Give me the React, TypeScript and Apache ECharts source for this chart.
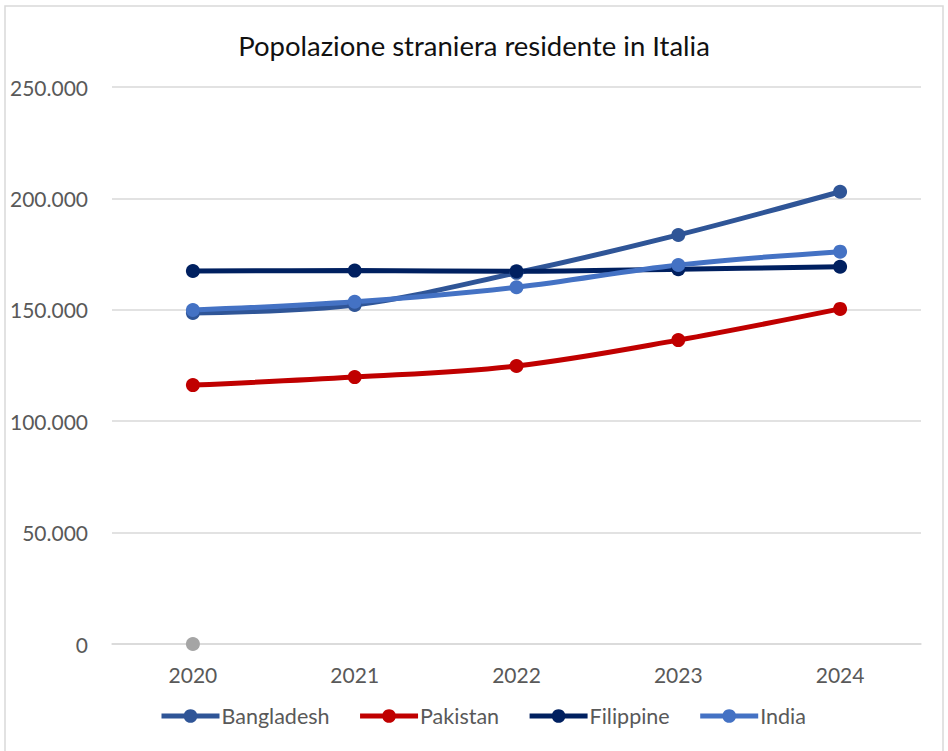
import React, { useEffect, useRef } from "react";
import * as echarts from "echarts";

const categories = ["2020", "2021", "2022", "2023", "2024"];
const bangladesh = [148600, 152200, 166600, 183600, 203000];
const pakistan = [116200, 119800, 124800, 136400, 150400];
const filippine = [167400, 167600, 167300, 168200, 169300];
const india = [149900, 153600, 160100, 170100, 176100];
const extraPoint = [0, null, null, null, null];
const yTicks = { min: 0, max: 250000, interval: 50000 };

const FONT = "Lato";

const fmt = (v: number) => String(v).replace(/\B(?=(\d{3})+(?!\d))/g, ".");

export default function App() {
  const ref = useRef<HTMLDivElement>(null);
  useEffect(() => {
    document.body.style.margin = "0";
    const chart = echarts.init(ref.current!, undefined, { renderer: "svg" });
    const mk = (name: string, data: (number | null)[], color: string) => ({
      name,
      type: "line",
      data,
      smooth: 0.35,
      symbol: "circle",
      symbolSize: 14,
      showSymbol: true,
      lineStyle: { width: 5, color },
      itemStyle: { color },
      emphasis: { disabled: true },
    });
    chart.setOption({
      animation: false,
      backgroundColor: "#ffffff",
      textStyle: { fontFamily: FONT },
      title: {
        text: "Popolazione straniera residente in Italia",
        left: "center",
        top: 26,
        textStyle: { fontFamily: FONT, fontSize: 27.5, fontWeight: "normal", color: "#111111" },
      },
      graphic: [
        {
          type: "rect",
          shape: { x: 5, y: 6, width: 938, height: 780 },
          style: { fill: "none", stroke: "#d9d9d9", lineWidth: 1.5 },
          silent: true,
        },
      ],
      legend: {
        left: 154,
        top: 700,
        itemWidth: 58,
        itemHeight: 17,
        itemGap: 28,
        data: ["Bangladesh", "Pakistan", "Filippine", "India"],
        lineStyle: { width: 5 },
        textStyle: { fontFamily: FONT, fontSize: 21.5, color: "#595959", padding: [0, 0, 0, -3] },
      },
      grid: { left: 112, right: 27, top: 87, bottom: 107, containLabel: false },
      xAxis: {
        type: "category",
        data: categories,
        boundaryGap: true,
        axisLine: { show: true, lineStyle: { color: "#d9d9d9", width: 1.5 } },
        axisTick: { show: false },
        axisLabel: { fontFamily: FONT, fontSize: 21, color: "#595959", margin: 20 },
      },
      yAxis: {
        type: "value",
        min: yTicks.min,
        max: yTicks.max,
        interval: yTicks.interval,
        axisLine: { show: false },
        axisTick: { show: false },
        splitLine: { lineStyle: { color: "#d9d9d9", width: 1.5 } },
        axisLabel: { fontFamily: FONT, fontSize: 21, color: "#595959", margin: 24, formatter: fmt },
      },
      series: [
        mk("Bangladesh", bangladesh, "#2F5597"),
        mk("Pakistan", pakistan, "#C00000"),
        mk("Filippine", filippine, "#002060"),
        mk("India", india, "#4472C4"),
        { ...mk("Serie5", extraPoint, "#A5A5A5"), smooth: false },
      ],
    });
    return () => chart.dispose();
  }, []);
  return <div ref={ref} style={{ width: 948, height: 751 }} />;
}
